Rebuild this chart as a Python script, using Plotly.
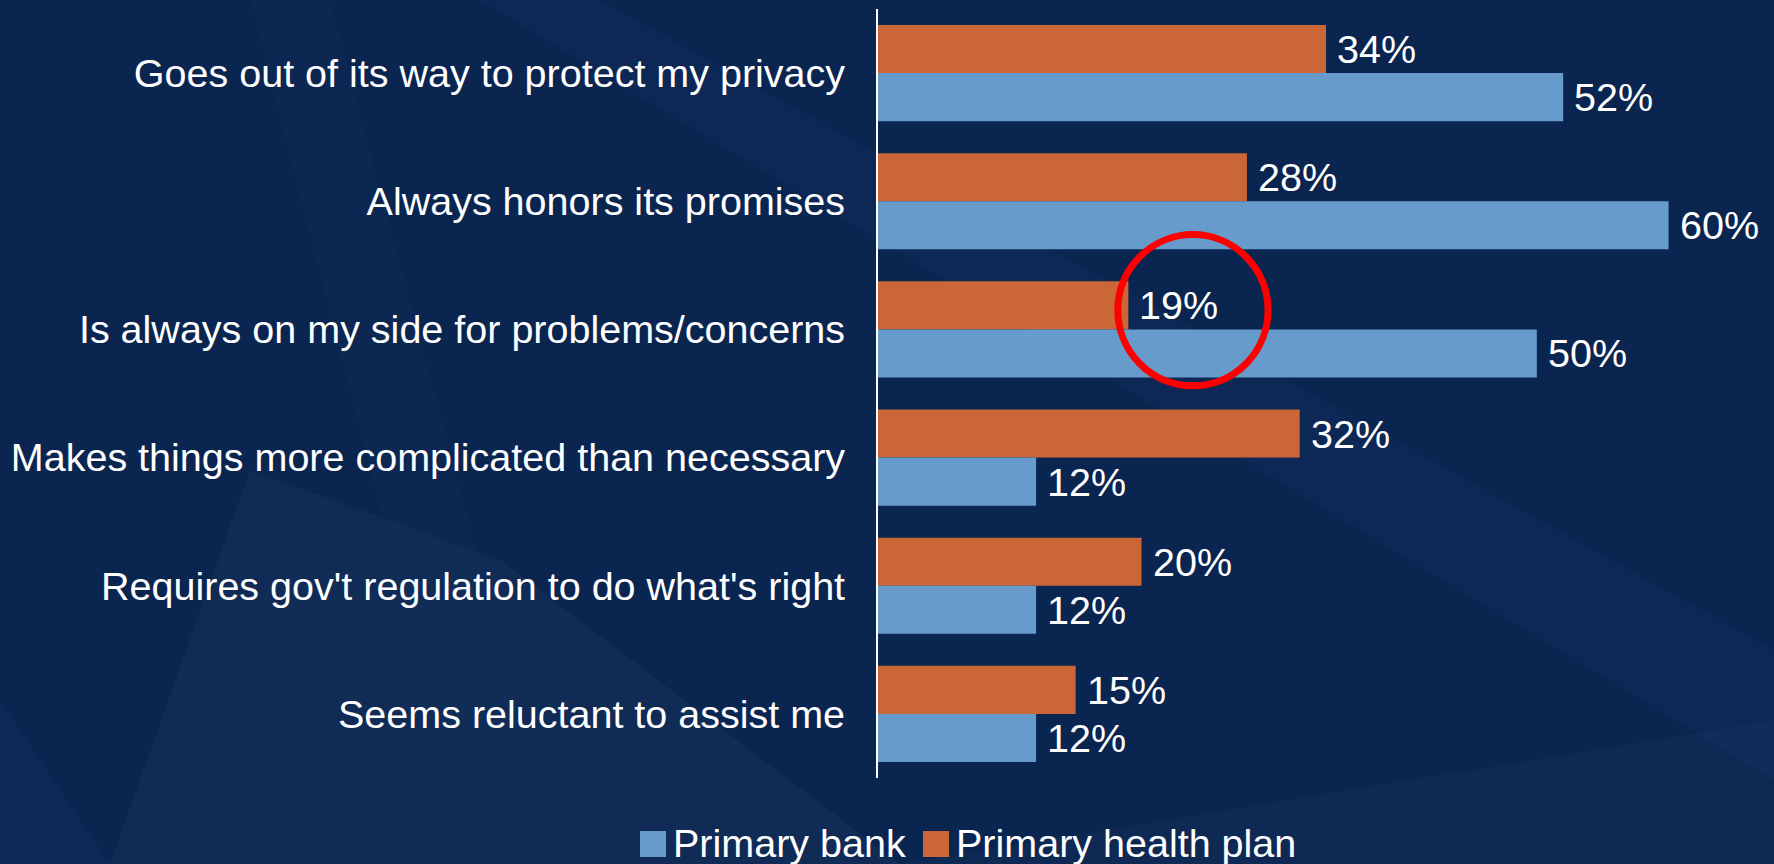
import plotly.graph_objects as go

# Survey statements (top to bottom) and the share agreeing, in percent
statements = [
    "Goes out of its way to protect my privacy",
    "Always honors its promises",
    "Is always on my side for problems/concerns",
    "Makes things more complicated than necessary",
    "Requires gov't regulation to do what's right",
    "Seems reluctant to assist me",
]
primary_bank = [52, 60, 50, 12, 12, 12]
primary_health_plan = [34, 28, 19, 32, 20, 15]

series_names = ["Primary bank", "Primary health plan"]
BANK_COLOR = "#669BCC"
PLAN_COLOR = "#CB6636"
BG_COLOR = "#0A2550"

W, H = 1774, 864
M_L, M_R, M_T, M_B = 878, 0, 9, 86
PLOT_W = W - M_L - M_R
PLOT_H = H - M_T - M_B
BARGAP = 0.25


def px_to_paper(px, py):
    """Convert page pixel position into paper coordinates of the plot area."""
    return (px - M_L) / PLOT_W, (H - M_B - py) / PLOT_H


def poly_path(points):
    pts = [px_to_paper(x, y) for x, y in points]
    return "M " + " L ".join(f"{x:.4f},{y:.4f}" for x, y in pts) + " Z"


label_font = dict(family="Liberation Sans, Arial, sans-serif", size=39.5, color="white")

fig = go.Figure()

# Health plan drawn first so it sits above the bank bar in each group
fig.add_trace(go.Bar(
    name=series_names[1],
    y=statements,
    x=primary_health_plan,
    orientation="h",
    marker=dict(color=PLAN_COLOR, line=dict(width=0)),
    showlegend=False,
    hoverinfo="x+y",
))
fig.add_trace(go.Bar(
    name=series_names[0],
    y=statements,
    x=primary_bank,
    orientation="h",
    marker=dict(color=BANK_COLOR, line=dict(width=0)),
    showlegend=False,
    hoverinfo="x+y",
))

# Value labels just past the end of each bar
slot_px = PLOT_H / len(statements)
bar_offset_px = (1 - BARGAP) / 4 * slot_px
annotations = []
for values, shift in ((primary_health_plan, bar_offset_px), (primary_bank, -bar_offset_px)):
    for stmt, val in zip(statements, values):
        annotations.append(dict(
            xref="x", yref="y", x=val, y=stmt,
            xanchor="left", yanchor="middle", xshift=9, yshift=shift,
            showarrow=False, text=f"{val}%", font=label_font,
        ))

# Faint diagonal streaks in the slide background
streaks = [
    ([(110, 864), (250, 470), (500, 560), (900, 864)], 0.05),
    ([(0, 864), (0, 700), (110, 864)], 0.03),
    ([(480, 0), (600, 0), (1774, 650), (1774, 780)], 0.03),
    ([(900, 864), (1774, 720), (1774, 864)], 0.035),
    ([(250, 0), (330, 0), (560, 864), (470, 864)], 0.02),
]
shapes = []
for pts, alpha in streaks:
    shapes.append(dict(
        type="path", xref="paper", yref="paper", layer="below",
        path=poly_path(pts), fillcolor=f"rgba(120,160,210,{alpha})",
        line=dict(width=0),
    ))

# Red highlight ring around the health-plan figure for the third statement
ring_idx = 2
ring_val = primary_health_plan[ring_idx]
shapes.append(dict(
    type="circle", xref="x", yref="y", layer="above",
    x0=ring_val - 0.8, x1=ring_val + 10.6,
    y0=ring_idx - 0.74, y1=ring_idx + 0.44,
    line=dict(color="#FF0000", width=7),
))

# Legend: colour swatch followed by series name
legend_items = [
    (series_names[0], BANK_COLOR, 640, 666),
    (series_names[1], PLAN_COLOR, 923, 949),
]
for name, color, sx0, sx1 in legend_items:
    x0, y0 = px_to_paper(sx0, 857)
    x1, y1 = px_to_paper(sx1, 831)
    shapes.append(dict(
        type="rect", xref="paper", yref="paper",
        x0=x0, x1=x1, y0=y0, y1=y1,
        fillcolor=color, line=dict(width=0),
    ))
    tx, ty = px_to_paper(sx1 + 5, 843)
    annotations.append(dict(
        xref="paper", yref="paper", x=tx, y=ty,
        xanchor="left", yanchor="middle", showarrow=False,
        text=name, font=label_font,
    ))

fig.update_layout(
    width=W, height=H,
    margin=dict(l=M_L, r=M_R, t=M_T, b=M_B, pad=0),
    paper_bgcolor=BG_COLOR,
    plot_bgcolor="rgba(0,0,0,0)",
    barmode="group",
    bargap=BARGAP,
    bargroupgap=0,
    font=label_font,
    shapes=shapes,
    annotations=annotations,
    xaxis=dict(range=[0, 68], visible=False, fixedrange=True),
    yaxis=dict(
        autorange="reversed",
        showline=True, linecolor="white", linewidth=2,
        showgrid=False, zeroline=False, ticks="",
        ticklabelstandoff=23,
        tickfont=label_font,
        fixedrange=True,
    ),
    showlegend=False,
)

fig.write_html("out.html", config={"displayModeBar": False})
